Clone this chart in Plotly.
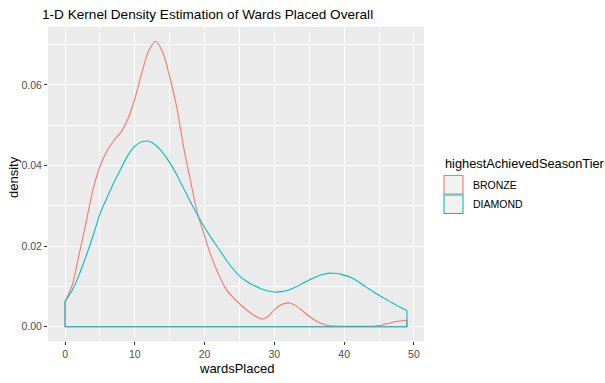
import plotly.graph_objects as go

# Kernel density estimates of wards placed, per highest achieved season tier
tiers = ["BRONZE", "DIAMOND"]
tier_colors = ["#F8766D", "#00BFC4"]

bronze_x = [0, 1, 2, 3, 4, 5, 6, 7, 8, 9, 10, 11, 12, 13, 14, 15, 16, 17, 18, 19,
            20, 21, 22, 23, 24, 25, 26, 27, 28.2, 29, 30, 31, 32.2, 33, 34, 35, 36,
            37, 38, 40, 42, 44, 45, 46, 47, 48, 49]
bronze_y = [0.0063, 0.0102, 0.0178, 0.0258, 0.0340, 0.0398, 0.0436, 0.0462, 0.0482,
            0.0515, 0.0566, 0.0630, 0.0685, 0.0708, 0.0680, 0.0620, 0.0545, 0.0445,
            0.0360, 0.0280, 0.0225, 0.0172, 0.0130, 0.0095, 0.0074, 0.0057, 0.0042,
            0.0029, 0.0019, 0.0024, 0.0042, 0.0055, 0.0059, 0.0053, 0.0040, 0.0026,
            0.0014, 0.0006, 0.0002, 0.0001, 0.0001, 0.0001, 0.0003, 0.0007, 0.0011,
            0.0014, 0.0016]

diamond_x = list(range(0, 50))
diamond_y = [0.0063, 0.0090, 0.0128, 0.0175, 0.0225, 0.0280, 0.0320, 0.0358, 0.0392,
             0.0425, 0.0448, 0.0459, 0.0460, 0.0450, 0.0432, 0.0407, 0.0377, 0.0343,
             0.0309, 0.0277, 0.0246, 0.0219, 0.0194, 0.0168, 0.0145, 0.0126, 0.0113,
             0.0103, 0.0095, 0.0089, 0.0086, 0.0087, 0.0091, 0.0098, 0.0107, 0.0116,
             0.0124, 0.0130, 0.0133, 0.0132, 0.0128, 0.0122, 0.0112, 0.0100, 0.0089,
             0.0078, 0.0068, 0.0058, 0.0049, 0.0040]

x_ticks = [0, 10, 20, 30, 40, 50]
y_ticks = [0.00, 0.02, 0.04, 0.06]

series = [(bronze_x, bronze_y), (diamond_x, diamond_y)]

# Figure geometry (pixels)
W, H = 605, 383
ML, MR, MT, MB = 48, 181, 27, 42
PW, PH = W - ML - MR, H - MT - MB


def px_x(p):
    return (p - ML) / PW


def px_y(p):
    return (H - MB - p) / PH


FONT = "Liberation Sans, Arial, sans-serif"

fig = go.Figure()
for (xs, ys), col, name in zip(series, tier_colors, tiers):
    # density curve
    fig.add_trace(go.Scatter(x=xs, y=ys, mode="lines", name=name,
                             line=dict(color=col, width=1.1, shape="spline", smoothing=0.8),
                             showlegend=False, hoverinfo="skip"))
    # polygon outline closing down to the baseline
    fig.add_trace(go.Scatter(x=[xs[-1], xs[-1], xs[0], xs[0]],
                             y=[ys[-1], 0, 0, ys[0]], mode="lines",
                             line=dict(color=col, width=1.1),
                             showlegend=False, hoverinfo="skip"))

xmin, xmax = min(bronze_x + diamond_x), max(bronze_x + diamond_x)
xpad = 0.05 * (xmax - xmin)
ymax = max(bronze_y + diamond_y)
ypad = 0.05 * ymax

axis_common = dict(showgrid=True, gridcolor="white", gridwidth=1.1, zeroline=False,
                   showline=False, ticks="outside", ticklen=3, tickwidth=1,
                   tickcolor="#333333",
                   tickfont=dict(family=FONT, size=10.5, color="#4D4D4D"))

fig.update_layout(
    width=W, height=H,
    margin=dict(l=ML, r=MR, t=MT, b=MB),
    paper_bgcolor="white", plot_bgcolor="#EBEBEB",
    showlegend=False,
    xaxis=dict(range=[xmin - xpad, xmax + xpad], tickvals=x_ticks,
               minor=dict(dtick=5, showgrid=True, gridcolor="white", gridwidth=0.55),
               **axis_common),
    yaxis=dict(range=[-ypad, ymax + ypad], tickvals=y_ticks, tickformat=".2f",
               minor=dict(dtick=0.01, showgrid=True, gridcolor="white", gridwidth=0.55),
               **axis_common),
    title=dict(text="1-D Kernel Density Estimation of Wards Placed Overall",
               xref="container", yref="container", x=42 / W, y=1 - 14 / H,
               xanchor="left", yanchor="middle",
               font=dict(family=FONT, size=13.6, color="black")),
)

annotations = [
    dict(text="wardsPlaced", xref="paper", yref="paper", x=0.5, y=px_y(368),
         xanchor="center", yanchor="middle", showarrow=False,
         font=dict(family=FONT, size=13, color="black")),
    dict(text="density", xref="paper", yref="paper", x=px_x(13), y=px_y(177),
         xanchor="center", yanchor="middle", showarrow=False, textangle=-90,
         font=dict(family=FONT, size=13, color="black")),
    dict(text="highestAchievedSeasonTier", xref="paper", yref="paper",
         x=px_x(443), y=px_y(163), xanchor="left", yanchor="middle", showarrow=False,
         font=dict(family=FONT, size=12.8, color="black")),
]

shapes = []
key_tops = [175.5, 195]
label_centers = [185, 204]
for name, col, top, lc in zip(tiers, tier_colors, key_tops, label_centers):
    shapes.append(dict(type="rect", xref="paper", yref="paper",
                       x0=px_x(444), x1=px_x(463), y0=px_y(top), y1=px_y(top + 18.5),
                       fillcolor="#F2F2F2", line=dict(color=col, width=1.1)))
    annotations.append(dict(text=name, xref="paper", yref="paper", x=px_x(470.5), y=px_y(lc),
                            xanchor="left", yanchor="middle", showarrow=False,
                            font=dict(family=FONT, size=10.5, color="black")))

fig.update_layout(annotations=annotations, shapes=shapes)

fig.write_html("out.html")
